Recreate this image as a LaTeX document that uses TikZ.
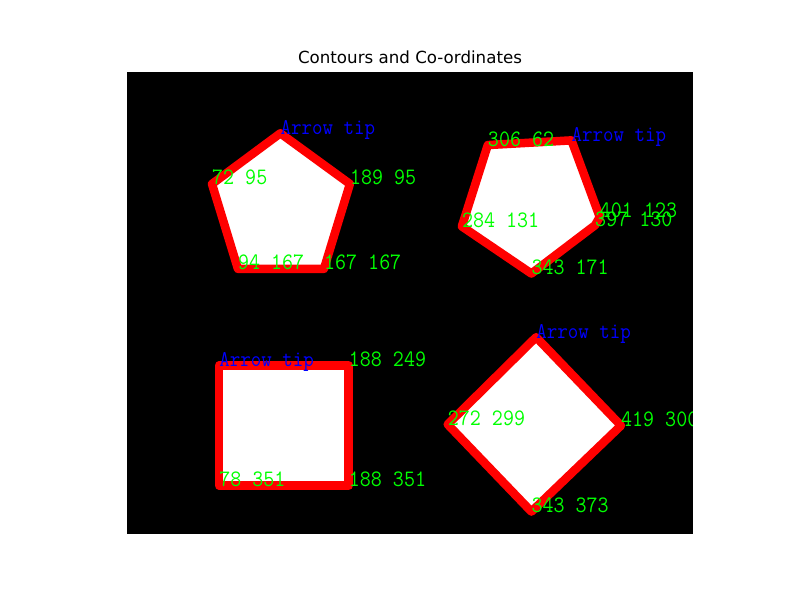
\documentclass[tikz,border=0pt]{standalone}
\usepackage{fontspec}
\setmainfont{DejaVu Sans}
\definecolor{cvred}{RGB}{255,0,0}
\definecolor{cvgreen}{RGB}{0,255,0}
\definecolor{cvblue}{RGB}{0,0,255}
\newcommand{\tallify}[1]{\scalebox{1}[1.1]{#1}}
\tikzset{
  contour/.style={draw=cvred, fill=white, line width=8.5pt, line join=round},
  coordlabel/.style={anchor=base west, inner sep=0pt, yshift=-1pt, text=cvgreen,
    font=\ttfamily\fontsize{21.4}{23}\selectfont},
  tiplabel/.style={anchor=base west, inner sep=0pt, yshift=-1pt, text=cvblue,
    font=\ttfamily\fontsize{20.4}{22}\selectfont},
  titlestyle/.style={anchor=base, inner sep=0pt, font=\fontsize{16.67}{20}\selectfont}
}
\begin{document}
\begin{tikzpicture}[x=1pt,y=-1pt]
\useasboundingbox[fill=white] (0,0) rectangle (800,600);
\node[titlestyle] (title) at (410,63.5) {Contours and Co-ordinates};
\begin{scope}[xshift=127.14pt, yshift=-72pt, x=1.17857pt, y=-1.17857pt]
  \fill[black] (0,0) rectangle (480,392);
  \clip (0,0) rectangle (480,392);
  % pentagon 1
  \coordinate (pa) at (130,52);
  \coordinate (pb) at (189,95);
  \coordinate (pc) at (167,167);
  \coordinate (pd) at (94,167);
  \coordinate (pe) at (72,95);
  \draw[contour] (pa) -- (pb) -- (pc) -- (pd) -- (pe) -- cycle;
  % pentagon 2
  \coordinate (qa) at (377,58);
  \coordinate (qb) at (306,62);
  \coordinate (qc) at (284,131);
  \coordinate (qd) at (343,171);
  \coordinate (qe) at (397,130);
  \coordinate (qf) at (401,123);
  \draw[contour] (qa) -- (qb) -- (qc) -- (qd) -- (qe) -- (qf) -- cycle;
  % square
  \coordinate (sa) at (78,249);
  \coordinate (sb) at (188,249);
  \coordinate (sc) at (188,351);
  \coordinate (sd) at (78,351);
  \draw[contour] (sa) -- (sb) -- (sc) -- (sd) -- cycle;
  % diamond
  \coordinate (da) at (347,225);
  \coordinate (db) at (419,300);
  \coordinate (dc) at (343,373);
  \coordinate (dd) at (272,299);
  \draw[contour] (da) -- (db) -- (dc) -- (dd) -- cycle;
  % labels
  \node[tiplabel] (pat) at (pa) {\tallify{Arrow tip}};
  \node[coordlabel] (pbt) at (pb) {\tallify{189 95}};
  \node[coordlabel] (pct) at (pc) {\tallify{167 167}};
  \node[coordlabel] (pdt) at (pd) {\tallify{94 167}};
  \node[coordlabel] (pet) at (pe) {\tallify{72 95}};
  \node[tiplabel] (qat) at (qa) {\tallify{Arrow tip}};
  \node[coordlabel] (qbt) at (qb) {\tallify{306 62}};
  \node[coordlabel] (qct) at (qc) {\tallify{284 131}};
  \node[coordlabel] (qdt) at (qd) {\tallify{343 171}};
  \node[coordlabel] (qet) at (qe) {\tallify{397 130}};
  \node[coordlabel] (qft) at (qf) {\tallify{401 123}};
  \node[tiplabel] (sat) at (sa) {\tallify{Arrow tip}};
  \node[coordlabel] (sbt) at (sb) {\tallify{188 249}};
  \node[coordlabel] (sct) at (sc) {\tallify{188 351}};
  \node[coordlabel] (sdt) at (sd) {\tallify{78 351}};
  \node[tiplabel] (dat) at (da) {\tallify{Arrow tip}};
  \node[coordlabel] (dbt) at (db) {\tallify{419 300}};
  \node[coordlabel] (dct) at (dc) {\tallify{343 373}};
  \node[coordlabel] (ddt) at (dd) {\tallify{272 299}};
\end{scope}
\end{tikzpicture}
\end{document}
